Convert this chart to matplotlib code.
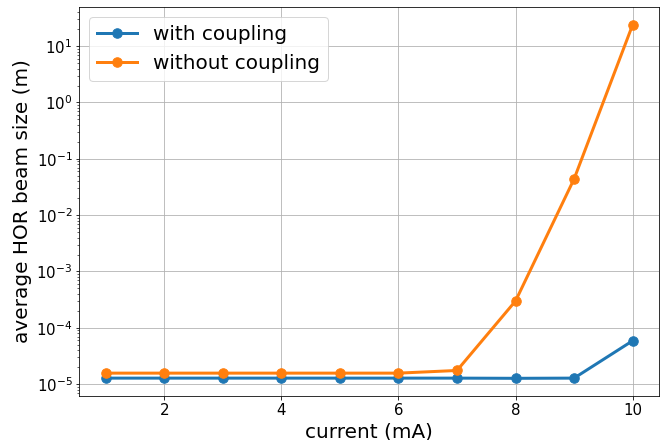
import numpy as np
import matplotlib
matplotlib.use('Agg')
import matplotlib.pyplot as plt

current = [1, 2, 3, 4, 5, 6, 7, 8, 9, 10]
with_coupling = [1.28e-5, 1.28e-5, 1.28e-5, 1.28e-5, 1.28e-5, 1.28e-5, 1.28e-5, 1.27e-5, 1.28e-5, 5.9e-5]
without_coupling = [1.57e-5, 1.57e-5, 1.57e-5, 1.57e-5, 1.57e-5, 1.57e-5, 1.75e-5, 3.0e-4, 4.4e-2, 24.0]

fig, ax = plt.subplots(figsize=(661 / 72, 440 / 72), dpi=72)
fig.subplots_adjust(left=0.12, right=0.997, top=0.984, bottom=0.1)

ax.plot(current, with_coupling, marker='o', lw=3, ms=9.5, label='with coupling')
ax.plot(current, without_coupling, marker='o', lw=3, ms=9.5, label='without coupling')
ax.set_yscale('log')
ax.grid(True, which='major')
ax.set_xlabel('current (mA)', fontsize=20)
ax.set_ylabel('average HOR beam size (m)', fontsize=20)
ax.tick_params(labelsize=15)
ax.legend(fontsize=20, loc='upper left')

fig.savefig('out.png', dpi=72)
